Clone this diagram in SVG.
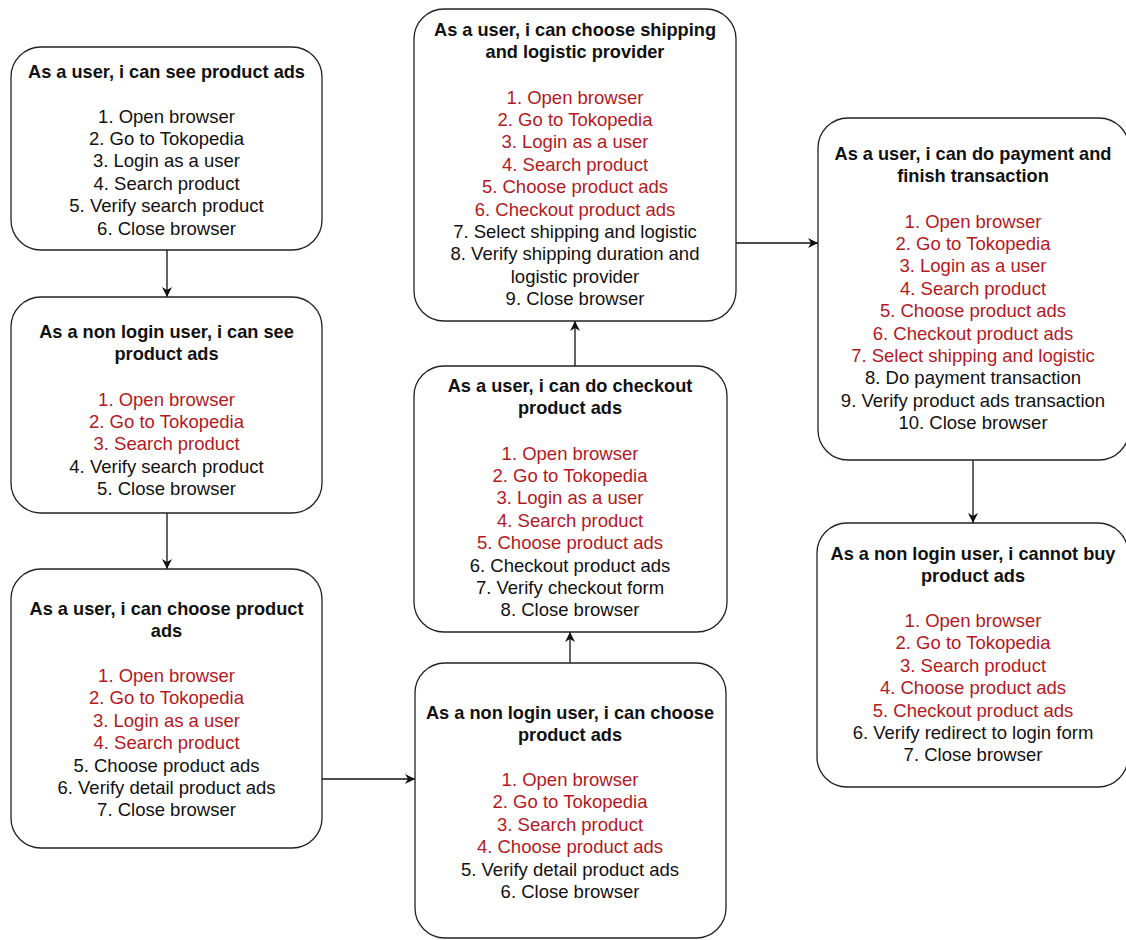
<svg xmlns="http://www.w3.org/2000/svg" width="1126" height="940" viewBox="0 0 1126 940">
<defs>
<marker id="arr" viewBox="0 0 10 10" refX="10" refY="5" markerWidth="10" markerHeight="10" markerUnits="userSpaceOnUse" orient="auto">
<path d="M0,0 L10,5 L0,10 L3,5 z" fill="#111"/>
</marker>
<style>
.box{fill:#fff;stroke:#222;stroke-width:1.3}
.t{font-family:"Liberation Sans",Arial,Helvetica,sans-serif;font-size:18.5px;text-anchor:middle;fill:#111}
.h{font-weight:bold;font-size:18.2px}
.r{fill:#B3191E}
.e{fill:none;stroke:#111;stroke-width:1.3}
</style>
</defs>
<rect width="1126" height="940" fill="#fff"/>
<g id="connectors">
<path class="e" d="M167,250 L167,297" marker-end="url(#arr)"/>
<path class="e" d="M167,513 L167,569" marker-end="url(#arr)"/>
<path class="e" d="M322,779 L415,779" marker-end="url(#arr)"/>
<path class="e" d="M570,663 L570,632" marker-end="url(#arr)"/>
<path class="e" d="M575,366 L575,321" marker-end="url(#arr)"/>
<path class="e" d="M736,243 L818,243" marker-end="url(#arr)"/>
<path class="e" d="M973,460 L973,523" marker-end="url(#arr)"/>
</g>
<g id="node1">
<rect class="box" x="11" y="47" width="311" height="203" rx="30"/>
<text class="t"><tspan class="h" x="166.5" y="78">As a user, i can see product ads</tspan><tspan x="166.5" y="122.5">1. Open browser</tspan><tspan x="166.5" y="144.9">2. Go to Tokopedia</tspan><tspan x="166.5" y="167.3">3. Login as a user</tspan><tspan x="166.5" y="189.7">4. Search product</tspan><tspan x="166.5" y="212.1">5. Verify search product</tspan><tspan x="166.5" y="234.5">6. Close browser</tspan></text>
</g>
<g id="node2">
<rect class="box" x="11" y="297" width="311" height="216" rx="30"/>
<text class="t"><tspan class="h" x="166.5" y="338">As a non login user, i can see</tspan><tspan class="h" x="166.5" y="360.4">product ads</tspan><tspan class="r" x="166.5" y="405.5">1. Open browser</tspan><tspan class="r" x="166.5" y="427.9">2. Go to Tokopedia</tspan><tspan class="r" x="166.5" y="450.3">3. Search product</tspan><tspan x="166.5" y="472.7">4. Verify search product</tspan><tspan x="166.5" y="495.1">5. Close browser</tspan></text>
</g>
<g id="node3">
<rect class="box" x="11" y="569" width="311" height="279" rx="30"/>
<text class="t"><tspan class="h" x="166.5" y="615">As a user, i can choose product</tspan><tspan class="h" x="166.5" y="637.4">ads</tspan><tspan class="r" x="166.5" y="682">1. Open browser</tspan><tspan class="r" x="166.5" y="704.4">2. Go to Tokopedia</tspan><tspan class="r" x="166.5" y="726.8">3. Login as a user</tspan><tspan class="r" x="166.5" y="749.2">4. Search product</tspan><tspan x="166.5" y="771.6">5. Choose product ads</tspan><tspan x="166.5" y="794">6. Verify detail product ads</tspan><tspan x="166.5" y="816.4">7. Close browser</tspan></text>
</g>
<g id="node4">
<rect class="box" x="415" y="663" width="311" height="275" rx="30"/>
<text class="t"><tspan class="h" x="570" y="719">As a non login user, i can choose</tspan><tspan class="h" x="570" y="741.4">product ads</tspan><tspan class="r" x="570" y="786">1. Open browser</tspan><tspan class="r" x="570" y="808.4">2. Go to Tokopedia</tspan><tspan class="r" x="570" y="830.8">3. Search product</tspan><tspan class="r" x="570" y="853.2">4. Choose product ads</tspan><tspan x="570" y="875.6">5. Verify detail product ads</tspan><tspan x="570" y="898">6. Close browser</tspan></text>
</g>
<g id="node5">
<rect class="box" x="414" y="366" width="313" height="266" rx="30"/>
<text class="t"><tspan class="h" x="570" y="392">As a user, i can do checkout</tspan><tspan class="h" x="570" y="414.4">product ads</tspan><tspan class="r" x="570" y="459.5">1. Open browser</tspan><tspan class="r" x="570" y="481.9">2. Go to Tokopedia</tspan><tspan class="r" x="570" y="504.3">3. Login as a user</tspan><tspan class="r" x="570" y="526.7">4. Search product</tspan><tspan class="r" x="570" y="549.1">5. Choose product ads</tspan><tspan x="570" y="571.5">6. Checkout product ads</tspan><tspan x="570" y="593.9">7. Verify checkout form</tspan><tspan x="570" y="616.3">8. Close browser</tspan></text>
</g>
<g id="node6">
<rect class="box" x="414" y="9" width="322" height="312" rx="30"/>
<text class="t"><tspan class="h" x="575" y="36">As a user, i can choose shipping</tspan><tspan class="h" x="575" y="58.4">and logistic provider</tspan><tspan class="r" x="575" y="103.5">1. Open browser</tspan><tspan class="r" x="575" y="125.9">2. Go to Tokopedia</tspan><tspan class="r" x="575" y="148.3">3. Login as a user</tspan><tspan class="r" x="575" y="170.7">4. Search product</tspan><tspan class="r" x="575" y="193.1">5. Choose product ads</tspan><tspan class="r" x="575" y="215.5">6. Checkout product ads</tspan><tspan x="575" y="237.9">7. Select shipping and logistic</tspan><tspan x="575" y="260.3">8. Verify shipping duration and</tspan><tspan x="575" y="282.7">logistic provider</tspan><tspan x="575" y="305.1">9. Close browser</tspan></text>
</g>
<g id="node7">
<rect class="box" x="818" y="118" width="311" height="342" rx="30"/>
<text class="t"><tspan class="h" x="973" y="160">As a user, i can do payment and</tspan><tspan class="h" x="973" y="182.4">finish transaction</tspan><tspan class="r" x="973" y="227.5">1. Open browser</tspan><tspan class="r" x="973" y="249.9">2. Go to Tokopedia</tspan><tspan class="r" x="973" y="272.3">3. Login as a user</tspan><tspan class="r" x="973" y="294.7">4. Search product</tspan><tspan class="r" x="973" y="317.1">5. Choose product ads</tspan><tspan class="r" x="973" y="339.5">6. Checkout product ads</tspan><tspan class="r" x="973" y="361.9">7. Select shipping and logistic</tspan><tspan x="973" y="384.3">8. Do payment transaction</tspan><tspan x="973" y="406.7">9. Verify product ads transaction</tspan><tspan x="973" y="429.1">10. Close browser</tspan></text>
</g>
<g id="node8">
<rect class="box" x="817" y="523" width="311" height="264" rx="30"/>
<text class="t"><tspan class="h" x="973" y="560">As a non login user, i cannot buy</tspan><tspan class="h" x="973" y="582.4">product ads</tspan><tspan class="r" x="973" y="627">1. Open browser</tspan><tspan class="r" x="973" y="649.4">2. Go to Tokopedia</tspan><tspan class="r" x="973" y="671.8">3. Search product</tspan><tspan class="r" x="973" y="694.2">4. Choose product ads</tspan><tspan class="r" x="973" y="716.6">5. Checkout product ads</tspan><tspan x="973" y="739">6. Verify redirect to login form</tspan><tspan x="973" y="761.4">7. Close browser</tspan></text>
</g>
</svg>
